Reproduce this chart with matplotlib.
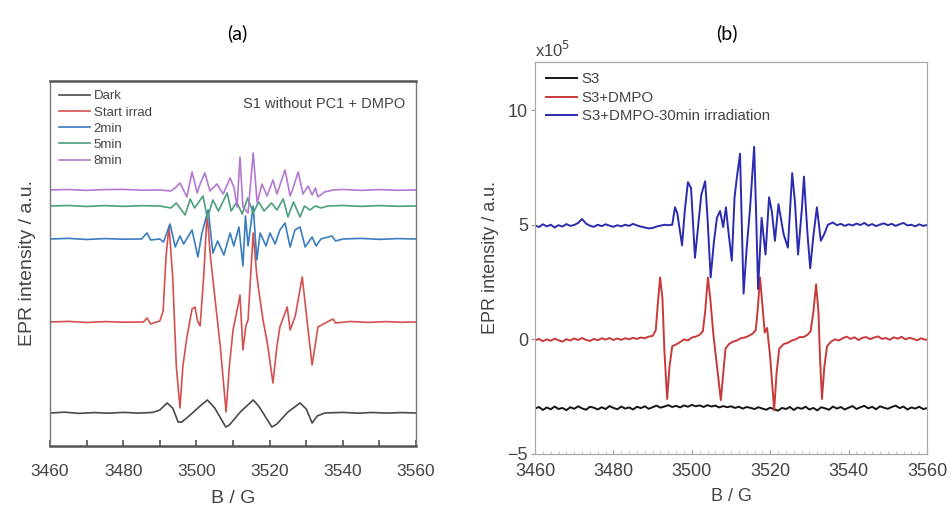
import matplotlib
matplotlib.use("Agg")
import matplotlib.pyplot as plt
from matplotlib.ticker import MultipleLocator

plt.rcParams['font.family'] = ['Liberation Sans', 'DejaVu Sans']

# ---------------- Panel (a) data (arbitrary units, stacked) ----------------
dark_B = [3460, 3464, 3468, 3472, 3476, 3480, 3484, 3488, 3490, 3492.0, 3493.5, 3495.0, 3496.0,
          3498.0, 3501.0, 3503.0, 3505.0, 3508.0, 3509.0, 3512.0, 3515.5, 3517.0, 3520.6, 3522.0,
          3525.0, 3528.3, 3530.0, 3531.6, 3533.0, 3535, 3540, 3544, 3548, 3552, 3556, 3560]
dark_v = [33, 33.8, 32.6, 33.4, 32.8, 33.6, 32.9, 33.5, 36, 43, 38, 24, 24,
          30, 40, 46, 38, 19, 21, 34, 46, 40, 19, 22,
          34, 43, 37, 23, 30, 33, 33.6, 32.8, 33.5, 32.9, 33.4, 33]

irr_B = [3460, 3465, 3470, 3475, 3480, 3485.5, 3486.5, 3487.5, 3490, 3490.9, 3491.7, 3492.5,
         3493.5, 3494.5, 3495.5, 3496.3, 3497.4, 3498.8, 3499.6, 3500.3, 3501.0, 3502.0, 3502.9,
         3503.8, 3505.0, 3506.5, 3508.1, 3509.0, 3510.0, 3511.4, 3511.9, 3512.7, 3513.5, 3514.1,
         3515.5, 3516.5, 3517.4, 3518.2, 3519.5, 3520.9, 3522.0, 3522.8, 3524.8, 3525.6, 3527.0,
         3528.9, 3530.2, 3531.6, 3533.2, 3535.7, 3537.3, 3538.0, 3542, 3547, 3552, 3556, 3560]
irr_v = [124, 124.6, 123.5, 124.4, 123.8, 124, 128, 122, 125, 135, 190, 220,
         170, 80, 38, 80, 109, 137, 139, 125, 120, 170, 233,
         190, 150, 100, 34, 80, 116, 141, 151, 96, 120, 126,
         213, 170, 146, 126, 100, 63, 100, 119, 139, 116, 130,
         169, 126, 81, 119, 124, 127, 123, 124.5, 123.6, 124.4, 123.7, 124]

m2_B = [3460, 3465, 3470, 3475, 3480, 3485, 3486.5, 3487.5, 3490, 3491.0, 3492.8, 3494.2,
        3495.5, 3496.5, 3498.8, 3500.4, 3501.5, 3503.2, 3504.5, 3505.8, 3507.5, 3509.2, 3510.2,
        3511.6, 3512.7, 3513.4, 3514.1, 3515.5, 3516.5, 3517.4, 3519.0, 3520.1, 3521.5, 3522.8,
        3524.2, 3525.6, 3526.9, 3528.3, 3529.7, 3531.6, 3532.7, 3534.0, 3537.0, 3538.0, 3540,
        3545, 3550, 3555, 3560]
m2_v = [207, 207.6, 206.5, 207.4, 206.8, 207, 213, 206, 207, 204, 222, 199,
        210, 202, 216, 189, 213, 236, 193, 205, 191, 213, 200,
        219, 180, 230, 200, 240, 186, 213, 200, 213, 202, 216,
        223, 199, 216, 219, 199, 209, 200, 207, 210, 205, 207,
        207.6, 206.6, 207.4, 207]

m5_B = [3460, 3465, 3470, 3475, 3480, 3485, 3490, 3493.0, 3494.5, 3496.9, 3498.3, 3499.5,
        3501.8, 3503.0, 3504.5, 3506.0, 3508.4, 3509.5, 3511.0, 3512.5, 3514.0, 3515.5, 3517.0,
        3518.5, 3520.5, 3522.0, 3523.7, 3525.0, 3526.5, 3528.3, 3529.5, 3531.0, 3532.5, 3534.0,
        3536, 3540, 3545, 3550, 3555, 3560]
m5_v = [240, 240.5, 239.5, 240.4, 239.6, 240.3, 240, 238, 243, 231, 247, 238,
        250, 228, 246, 235, 253, 235, 244, 232, 248, 233, 244,
        235, 243, 236, 247, 229, 244, 229, 240, 236, 240, 238,
        240, 240.5, 239.6, 240.4, 239.7, 240]

m8_B = [3460, 3465, 3470, 3475, 3480, 3485, 3490, 3493.0, 3494.2, 3495.5, 3497.4, 3498.8,
        3500.2, 3501.0, 3502.3, 3503.7, 3505.6, 3507.3, 3509.2, 3510.3, 3511.1, 3511.9, 3512.7,
        3514.1, 3515.5, 3516.6, 3517.9, 3519.3, 3520.9, 3522.0, 3524.2, 3525.6, 3526.4, 3527.8,
        3529.1, 3530.5, 3531.6, 3532.5, 3533.2, 3535.0, 3537.3, 3540, 3545, 3550, 3555, 3560]
m8_v = [256, 256.5, 255.6, 256.4, 256.6, 255.8, 256, 255, 258, 263, 249, 274,
        253, 262, 273, 255, 262, 252, 268, 258, 239, 289, 239,
        233, 293, 243, 262, 250, 266, 252, 276, 250, 258, 274,
        252, 260, 251, 258, 249, 254, 256, 256.5, 255.6, 256.4, 255.7, 256]

# ---------------- Panel (b) data (x10^5) ----------------
s3_B = [3460, 3461, 3462, 3463, 3464, 3465, 3466, 3467, 3468, 3469, 3470, 3471, 3472, 3473,
        3474, 3475, 3476, 3477, 3478, 3479, 3480, 3481, 3482, 3483, 3484, 3485, 3486, 3487,
        3488, 3489, 3490, 3491, 3492, 3493, 3494, 3495, 3496, 3497, 3498, 3499, 3500, 3501,
        3502, 3503, 3504, 3505, 3506, 3507, 3508, 3509, 3510, 3511, 3512, 3513, 3514, 3515,
        3516, 3517, 3518, 3519, 3520, 3521, 3522, 3523, 3524, 3525, 3526, 3527, 3528, 3529,
        3530, 3531, 3532, 3533, 3534, 3535, 3536, 3537, 3538, 3539, 3540, 3541, 3542, 3543,
        3544, 3545, 3546, 3547, 3548, 3549, 3550, 3551, 3552, 3553, 3554, 3555, 3556, 3557,
        3558, 3559, 3560]
s3_v = [-3.02, -2.95, -3.08, -2.97, -3.05, -2.93, -3.04, -2.99, -3.09, -2.96, -3.03, -2.92,
        -3.01, -3.07, -2.94, -2.98, -3.06, -2.96, -3.04, -2.91, -2.99, -3.05, -2.93, -3.02,
        -2.97, -3.06, -2.94, -3.00, -2.92, -3.03, -2.96, -2.89, -2.98, -2.93, -2.87, -2.95,
        -2.90, -2.97, -2.88, -2.94, -2.86, -2.92, -2.88, -2.95, -2.87, -2.93, -2.89, -2.97,
        -2.91, -2.96, -2.92, -2.99, -2.94, -3.02, -2.95, -2.99, -3.04, -2.96, -3.02, -3.07,
        -2.98, -3.05, -3.11, -2.99, -3.04, -2.95, -3.08, -2.97, -3.03, -2.94, -3.06, -2.99,
        -3.10, -2.96, -3.01, -3.07, -2.93, -3.02, -2.95, -3.06, -2.98, -2.91, -3.04, -2.96,
        -2.90, -3.01, -2.94, -3.05, -2.92, -2.98, -3.03, -2.95, -2.89, -3.00, -2.93, -3.06,
        -2.97, -3.02, -2.94, -3.04, -3.00]

dmpo_B = [3460, 3461, 3462, 3463, 3464, 3465, 3466, 3467, 3468, 3469, 3470, 3471, 3472, 3473,
          3474, 3475, 3476, 3477, 3478, 3479, 3480, 3481, 3482, 3483, 3484, 3485, 3486, 3487,
          3488, 3489, 3490, 3490.8, 3491.3, 3491.9, 3492.5, 3493.0, 3493.7, 3494.3, 3495, 3496,
          3497, 3498, 3499, 3500, 3501, 3502, 3502.8, 3503.4, 3504.1, 3504.7, 3505.5, 3506.3,
          3507.4, 3508.0, 3508.6, 3509.5, 3510.5, 3511.5, 3512.5, 3513.5, 3514.5, 3515.5, 3516.3,
          3516.8, 3517.4, 3518.0, 3518.6, 3519.2, 3520.0, 3521.0, 3521.6, 3522.3, 3523.5, 3524.5,
          3525.5, 3526.5, 3527.5, 3528.5, 3529.5, 3530.3, 3531.0, 3531.7, 3532.3, 3532.7, 3533.2,
          3533.8, 3534.5, 3535.5, 3536.5, 3537.5, 3538.5, 3539.5, 3540.5, 3541.5, 3542.5, 3543.5,
          3544.5, 3545.5, 3546.5, 3547.5, 3548.5, 3549.5, 3550.5, 3551.5, 3552.5, 3553.5, 3554.5,
          3555.5, 3556.5, 3557.5, 3558.5, 3559.5, 3560]
dmpo_v = [-0.05, 0.02, -0.08, 0.00, -0.06, 0.03, -0.04, -0.10, 0.01, -0.05, 0.04, -0.03, 0.06,
          -0.02, -0.07, 0.02, -0.04, 0.05, -0.01, 0.06, -0.03, 0.04, -0.02, 0.05, 0.00, 0.07,
          0.02, 0.08, 0.05, 0.12, 0.15, 0.40, 1.50, 2.70, 1.80, -0.50, -2.60, -1.20, -0.30, -0.22,
          -0.12, 0.00, -0.05, 0.08, 0.12, 0.20, 0.35, 1.20, 2.70, 1.80, 0.20, -1.00,
          -2.65, -1.50, -0.40, -0.20, -0.10, -0.05, 0.05, 0.08, 0.15, 0.25, 0.40,
          1.30, 2.70, 1.50, 0.30, 0.50, -0.80, -3.10, -1.50, -0.40, -0.20, -0.15,
          -0.05, 0.00, 0.10, 0.10, 0.20, 0.35, 1.20, 2.40, 1.20, -0.80, -2.60,
          -1.20, -0.30, -0.10, 0.00, -0.05, 0.05, 0.12, 0.02, 0.09, -0.03, 0.07,
          0.10, 0.01, 0.08, 0.13, 0.02, 0.06, -0.02, 0.09, 0.03, 0.11, 0.00,
          0.07, 0.02, -0.04, 0.05, -0.02, 0.00]

irr30_B = [3460, 3461, 3462, 3463, 3464, 3465, 3466, 3467, 3468, 3469, 3470, 3471, 3472, 3473,
           3474, 3475, 3476, 3477, 3478, 3479, 3480, 3481, 3482, 3483, 3484, 3485, 3486, 3487,
           3488, 3489, 3490, 3491, 3492, 3493, 3494, 3495.0, 3495.7, 3496.3, 3497.5, 3498.2,
           3499.0, 3499.8, 3500.8, 3501.5, 3502.4, 3503.4, 3504.0, 3504.8, 3505.6, 3506.4, 3507.2,
           3508.0, 3508.7, 3509.3, 3510.2, 3510.9, 3511.5, 3512.3, 3512.7, 3513.2, 3514.0, 3514.8,
           3515.9, 3516.4, 3516.9, 3517.8, 3518.8, 3519.7, 3520.4, 3521.2, 3522.1, 3523.4, 3524.5,
           3525.6, 3526.3, 3527.1, 3528.1, 3528.6, 3529.5, 3530.2, 3531.0, 3531.9, 3532.9, 3533.8,
           3534.7, 3536, 3537, 3538, 3539, 3540, 3541, 3542, 3543, 3544, 3545, 3546, 3547, 3548,
           3549, 3550, 3551, 3552, 3553, 3554, 3555, 3556, 3557, 3558, 3559, 3560]
irr30_v = [4.97, 4.90, 5.02, 4.93, 5.00, 4.88, 4.98, 4.92, 5.03, 4.95, 4.99, 5.08, 5.25, 5.05,
           4.96, 4.91, 5.00, 4.94, 5.02, 4.96, 4.91, 4.98, 4.93, 5.00, 4.95, 5.04, 4.97, 4.92,
           4.88, 4.84, 4.86, 4.92, 4.96, 5.00, 4.98, 5.00, 5.76, 5.50, 4.10, 5.60,
           6.86, 6.60, 3.56, 4.75, 6.30, 6.90, 5.30, 2.70, 4.20, 5.30, 5.60,
           4.90, 5.76, 4.75, 3.43, 6.20, 7.08, 8.10, 5.30, 2.00, 4.00, 5.60,
           8.40, 5.50, 2.20, 5.30, 3.70, 6.20, 5.60, 4.30, 5.90, 4.60, 4.00,
           7.25, 6.00, 3.70, 5.76, 7.10, 4.60, 3.10, 4.50, 5.76, 4.30, 4.60,
           5.00, 5.10, 4.98, 5.04, 4.95, 5.02, 4.97, 5.05, 4.99, 5.08, 4.96, 5.03, 4.94, 5.01,
           5.06, 4.98, 5.04, 4.95, 5.02, 5.08, 4.97, 5.00, 4.93, 5.02, 4.95, 4.99]

# ---------------- Figure ----------------
fig = plt.figure(figsize=(9.51, 5.09), dpi=100)

# Panel (a)
axa = fig.add_axes([0.0526, 0.1238, 0.3849, 0.7171])
lw = 1.2
axa.plot(dark_B, dark_v, color='#4a4a4a', lw=lw, label='Dark')
axa.plot(irr_B, irr_v, color='#d45050', lw=lw, label='Start irrad')
axa.plot(m2_B, m2_v, color='#3a7cc0', lw=lw, label='2min')
axa.plot(m5_B, m5_v, color='#4aa078', lw=lw, label='5min')
axa.plot(m8_B, m8_v, color='#b478d0', lw=lw, label='8min')
axa.set_xlim(3460, 3560)
axa.set_ylim(0, 365)
axa.set_yticks([])
axa.xaxis.set_major_locator(MultipleLocator(20))
axa.xaxis.set_minor_locator(MultipleLocator(10))
axa.tick_params(axis='x', which='both', direction='in', length=4, width=1.2,
                color='#555555', labelsize=12.5, labelcolor='#444444', pad=13)
for s in ['top', 'bottom']:
    axa.spines[s].set_linewidth(1.8)
    axa.spines[s].set_color('#555555')
for s in ['left', 'right']:
    axa.spines[s].set_linewidth(1.0)
    axa.spines[s].set_color('#777777')
axa.set_xlabel('B / G', fontsize=14, color='#444444', labelpad=8)
axa.set_ylabel('EPR intensity / a.u.', fontsize=14, color='#444444', labelpad=10)
axa.legend(loc='upper left', frameon=False, fontsize=9.5, handlelength=2.3,
           handletextpad=0.3, labelspacing=0.3, borderaxespad=0.3, labelcolor='#444444')
axa.text(0.97, 0.955, 'S1 without PC1 + DMPO', transform=axa.transAxes, ha='right',
         va='top', fontsize=10.5, color='#444444')
fig.text(0.249, 0.935, '(a)', ha='center', va='center', fontsize=14, family=['Lato', 'DejaVu Sans'])

# Panel (b)
axb = fig.add_axes([0.5626, 0.1081, 0.4122, 0.7701])
axb.plot(s3_B, s3_v, color='#151515', lw=1.4, label='S3')
axb.plot(dmpo_B, dmpo_v, color='#c83a3a', lw=1.4, label='S3+DMPO')
axb.plot(irr30_B, irr30_v, color='#2b2bb0', lw=1.4, label='S3+DMPO-30min irradiation')
axb.set_xlim(3460, 3560)
axb.set_ylim(-5, 12.1)
axb.set_yticks([-5, 0, 5, 10])
axb.set_yticklabels(['\u22125', '0', '5', '10'])
axb.xaxis.set_major_locator(MultipleLocator(20))
axb.xaxis.set_minor_locator(MultipleLocator(2))
axb.tick_params(axis='x', which='major', direction='in', length=3, color='#999999',
                labelsize=13, labelcolor='#444444', pad=6.5)
axb.tick_params(axis='x', which='minor', direction='in', length=2, color='#bbbbbb')
axb.tick_params(axis='y', direction='out', length=3, color='#999999',
                labelsize=13, labelcolor='#444444', pad=2)
for s in axb.spines.values():
    s.set_linewidth(0.9)
    s.set_color('#aaaaaa')
axb.set_xlabel('B / G', fontsize=13, color='#444444', labelpad=6)
axb.set_ylabel('EPR intensity / a.u.', fontsize=13, color='#444444', labelpad=6)
axb.text(0.0, 1.005, 'x10$^{5}$', transform=axb.transAxes, ha='left', va='bottom',
         fontsize=12, color='#444444')
axb.legend(loc='upper left', frameon=False, fontsize=10.8, handlelength=2.1,
           handletextpad=0.3, labelspacing=0.3, borderaxespad=0.3, labelcolor='#444444')
fig.text(0.764, 0.935, '(b)', ha='center', va='center', fontsize=14, family=['Lato', 'DejaVu Sans'])

fig.savefig('out.png', dpi=100)
